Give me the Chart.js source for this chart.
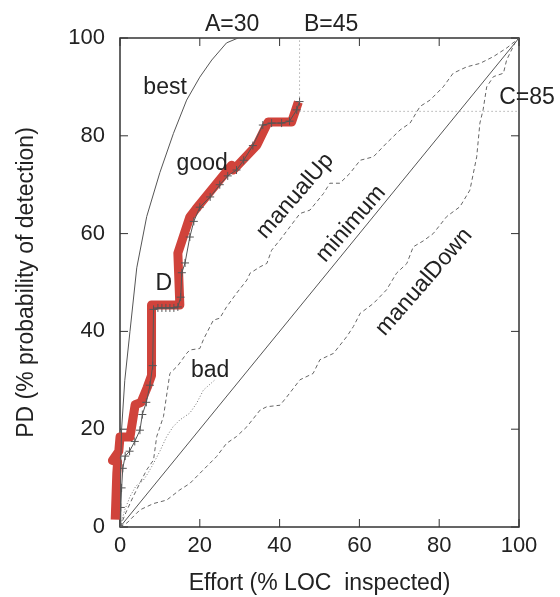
<!DOCTYPE html>
<html>
<head>
<meta charset="utf-8">
<script src="https://cdn.jsdelivr.net/npm/chart.js@4"></script>
<style>
    html, body { margin: 0; padding: 0; background: #ffffff; }
    #wrap { width: 560px; height: 597px; }
</style>
</head>
<body>
<div id="wrap"><canvas id="effortChart" width="560" height="597"></canvas></div>
<script>
// Effort (% LOC inspected) vs PD (% probability of detection)
const tickValues = [0, 20, 40, 60, 80, 100];

const minimumCurve = [[0, 0], [100, 100]];

const bestCurve = [
    [0, 0], [0.1, 10], [0.4, 20], [1.2, 30], [2.5, 40], [4.2, 53], [6.7, 63.5],
    [10, 72.5], [13.4, 80.5], [16.7, 87.3], [20, 92], [23, 95.5], [26.7, 99], [29.6, 100]
];

const manualUpCurve = [
    [0, 0], [1.5, 3], [3.3, 6.2], [5, 9], [6.7, 11.7], [8.4, 13.7], [9.2, 18.5], [10.9, 22.6],
    [12.5, 31.4], [14.5, 33], [16.7, 35.5], [17.5, 36.2], [20, 36.5], [21, 38.5], [23.4, 42.3],
    [25, 42.7], [26.7, 45], [29.2, 47.8], [31.8, 50.5], [32.6, 51.9], [35.1, 53.2], [36.8, 53.9],
    [38, 56.6], [40.1, 58.7], [42.6, 61.4], [45.1, 64.1], [47.6, 64.8], [51, 68.2], [52.6, 70.3],
    [55.1, 70.3], [57.6, 72.3], [60.2, 75], [63.5, 75.7], [66.8, 78.5], [70.2, 81.2], [72.7, 82.6],
    [75.2, 86], [77.7, 87.3], [81, 90], [83.5, 92.8], [86.9, 94.1], [90.2, 94.8], [93.6, 96.2],
    [97, 98], [100, 100]
];

const manualDownCurve = [
    [0, 0], [1.7, 0.8], [5, 3.5], [8.4, 4.8], [11.7, 5.5], [15, 7.6], [17.5, 8.9], [20.9, 11.7],
    [24.2, 14.4], [26.7, 17.1], [29.2, 18.5], [31.8, 20.5], [35.1, 23.9], [36.8, 24.6], [40.1, 24.9],
    [41.8, 26.6], [45.1, 30.1], [48.4, 31.4], [50.1, 34.2], [53.5, 35.5], [56.8, 38.9], [58.5, 41],
    [60.2, 43.7], [63.5, 45.7], [66.8, 48.5], [69.3, 51.9], [71.9, 53.9], [73.5, 57.3], [76, 58.5],
    [78.5, 60], [81.9, 63.5], [85.2, 65.5], [87.7, 68.9], [89.4, 75.7], [90.2, 82.6], [91, 85.3],
    [91.9, 90], [93.6, 92.1], [96.1, 92.8], [96.9, 95.5], [99, 99], [100, 100]
];

const badCurve = [
    [0, 0], [1.2, 3.5], [2.5, 6.2], [4, 8.4], [5.8, 9.5], [7, 11], [8.4, 13], [10, 15.5],
    [11.7, 18.5], [13.3, 20.5], [15, 21.9], [17.5, 23.3], [19.2, 25.3], [20.9, 28], [23.8, 30.1]
];

const goodCurve = [
    [0, 0], [0.2, 4], [0.4, 8], [0.7, 12], [1.3, 14.5], [2.4, 15.5], [3.7, 17.5], [5, 19.8],
    [5.6, 23], [6.6, 25.5], [7.5, 29], [8.2, 33], [8.4, 44.5], [9.5, 44.8], [10.5, 44.8],
    [11.5, 44.8], [12.5, 44.8], [13.5, 44.8], [14.5, 45], [15.2, 47], [15.5, 52], [16.3, 54],
    [17.5, 59.3], [18.5, 62.5], [20, 65.4], [22.6, 67.5], [25, 70], [27, 71.8], [29.2, 73],
    [31, 75], [33.3, 78], [35.8, 82.2], [38, 82.6], [40.5, 82.6], [42.5, 83], [44.3, 85.3], [45, 87]
];

// thick red pen line drawn over "good"
const penCurve = [
    [-1.2, 1.5], [-0.8, 11], [-0.6, 13.3], [-1.9, 13.6], [-0.3, 15.5], [0, 18.4], [2.5, 18.4],
    [3.8, 25], [5.3, 25.5], [6.8, 28.5], [7.9, 31], [7.9, 45.4], [15, 45.4], [14.5, 56],
    [17.5, 63.4], [19, 65], [28, 74], [28.4, 73], [34.3, 78.1], [37.1, 82.8], [43, 82.8], [44.7, 86.9]
];

const guideB = [[45, 87], [45, 100]];
const guideC = [[45, 85], [100, 85]];

// text labels: [text, x, y, rotation in degrees]
const chartLabels = [
    ['A=30', 28.1, 102.7, 0],
    ['B=45', 52.9, 102.7, 0],
    ['C=85', 102, 87.7, 0],
    ['best', 11.3, 89.8, 0],
    ['good', 20.6, 74.4, 0],
    ['D', 11, 49.7, 0],
    ['bad', 22.6, 31.9, 0],
    ['manualUp', 43.9, 67.7, -49],
    ['minimum', 57.9, 62, -49],
    ['manualDown', 76.2, 50.1, -49]
];

const FONT = '"Liberation Sans", Arial, Helvetica, sans-serif';
const TEXT_COLOR = '#222222';

function toPoints(pairs) {
    return pairs.map(p => ({ x: p[0], y: p[1] }));
}

function lineSet(pairs, color, width, dash, extra) {
    return Object.assign({
        data: toPoints(pairs),
        borderColor: color,
        borderWidth: width,
        borderDash: dash,
        pointRadius: 0,
        showLine: true,
        fill: false,
        tension: 0
    }, extra || {});
}

// frame, inward ticks on all four sides, and text labels
const framePlugin = {
    id: 'frameTicks',
    beforeDatasetsDraw(chart) {
        const { ctx, chartArea: a, scales } = chart;
        const len = 8;
        ctx.save();
        ctx.strokeStyle = '#333333';
        ctx.lineWidth = 1.5;
        ctx.strokeRect(a.left, a.top, a.right - a.left, a.bottom - a.top);
        ctx.lineWidth = 1;
        ctx.beginPath();
        tickValues.forEach(v => {
            const px = scales.x.getPixelForValue(v);
            const py = scales.y.getPixelForValue(v);
            ctx.moveTo(px, a.bottom); ctx.lineTo(px, a.bottom - len);
            ctx.moveTo(px, a.top); ctx.lineTo(px, a.top + len);
            ctx.moveTo(a.left, py); ctx.lineTo(a.left + len, py);
            ctx.moveTo(a.right, py); ctx.lineTo(a.right - len, py);
        });
        ctx.stroke();
        ctx.restore();
    },
    afterDatasetsDraw(chart) {
        const { ctx, scales } = chart;
        ctx.save();
        ctx.font = '23px ' + FONT;
        ctx.fillStyle = TEXT_COLOR;
        ctx.textAlign = 'center';
        ctx.textBaseline = 'middle';
        chartLabels.forEach(([text, x, y, rot]) => {
            ctx.save();
            ctx.translate(scales.x.getPixelForValue(x), scales.y.getPixelForValue(y));
            ctx.rotate(rot * Math.PI / 180);
            ctx.fillText(text, 0, 0);
            ctx.restore();
        });
        ctx.restore();
    }
};

const ctx = document.getElementById('effortChart').getContext('2d');

new Chart(ctx, {
    type: 'scatter',
    data: {
        datasets: [
            lineSet(minimumCurve, '#555555', 1, []),
            lineSet(bestCurve, '#555555', 1, []),
            lineSet(manualUpCurve, '#666666', 1, [4, 3]),
            lineSet(manualDownCurve, '#666666', 1, [4, 3]),
            lineSet(badCurve, '#777777', 1, [1, 2]),
            lineSet(guideB, '#888888', 1, [1, 3]),
            lineSet(guideC, '#888888', 1, [1, 3]),
            lineSet(goodCurve, '#555555', 1, [], {
                pointRadius: 4,
                pointStyle: 'cross',
                pointBorderColor: '#555555',
                pointBorderWidth: 1
            }),
            lineSet(penCurve, '#d0433b', 9, [], {
                borderJoinStyle: 'round',
                borderCapStyle: 'butt',
                clip: false
            })
        ]
    },
    options: {
        responsive: false,
        animation: false,
        layout: {
            padding: { top: 38, right: 41, left: 0, bottom: 0 }
        },
        plugins: {
            legend: { display: false },
            tooltip: { enabled: false }
        },
        scales: {
            x: {
                type: 'linear',
                min: 0,
                max: 100,
                afterFit: scale => { scale.height = 70; },
                ticks: {
                    stepSize: 20,
                    color: TEXT_COLOR,
                    padding: 6,
                    maxRotation: 0,
                    font: { family: FONT, size: 22 }
                },
                grid: { display: false, drawTicks: false },
                border: { display: false },
                title: {
                    display: true,
                    text: 'Effort (% LOC  inspected)',
                    color: TEXT_COLOR,
                    padding: { top: 5, bottom: 0 },
                    font: { family: FONT, size: 23 }
                }
            },
            y: {
                type: 'linear',
                min: 0,
                max: 100,
                afterFit: scale => { scale.width = 120; },
                ticks: {
                    stepSize: 20,
                    color: TEXT_COLOR,
                    padding: 15,
                    font: { family: FONT, size: 22 }
                },
                grid: { display: false, drawTicks: false },
                border: { display: false },
                title: {
                    display: true,
                    text: 'PD (% probability of detection)',
                    color: TEXT_COLOR,
                    padding: { top: 13, bottom: 0 },
                    font: { family: FONT, size: 23 }
                }
            }
        }
    },
    plugins: [framePlugin]
});
</script>
</body>
</html>
